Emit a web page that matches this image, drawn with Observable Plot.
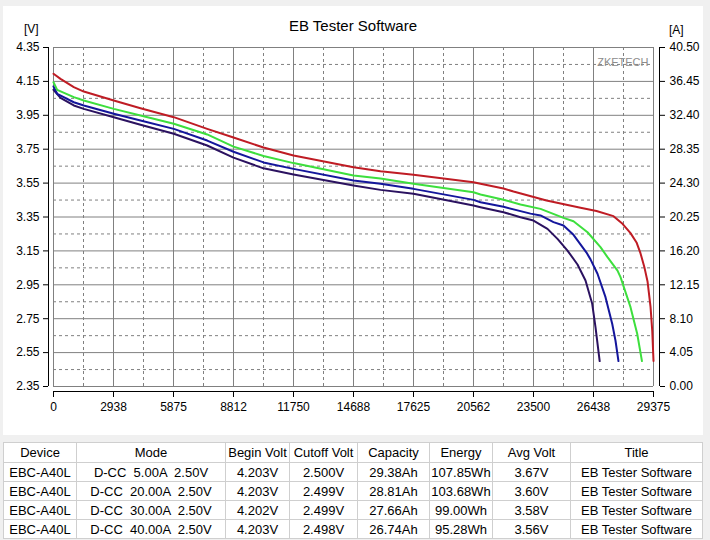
<!DOCTYPE html>
<html><head><meta charset="utf-8">
<script src="https://cdn.jsdelivr.net/npm/d3@7"></script>
<script src="https://cdn.jsdelivr.net/npm/@observablehq/plot@0.6"></script>
<style>
html,body{margin:0;padding:0;background:#f0f0f0;width:710px;height:540px;overflow:hidden;font-family:"Liberation Sans",Arial,sans-serif;color:#000;}
#panel{position:absolute;left:3px;top:6px;width:700px;height:429px;background:#fff;}
#panel svg{position:absolute;left:0;top:0;}
#title{position:absolute;left:0;width:700px;top:11px;text-align:center;font-size:15px;}
.unit{position:absolute;font-size:12px;}
table{position:absolute;left:3px;top:442px;width:699px;border-collapse:collapse;background:#fff;table-layout:fixed;font-size:13px;border:1px solid #a0a0a0;}
td,th{border:1px solid #cfcfcf;text-align:center;padding:0;font-weight:normal;white-space:pre;height:18px;line-height:17px;}
th{height:19px;}
</style>
</head><body>
<div id="panel">
  <div id="title"></div>
  <div class="unit" id="uv" style="left:21px;top:16px;"></div>
  <div class="unit" id="ua" style="left:666px;top:17px;"></div>
</div>
<table id="tbl"></table>
<script>
// ---- data ----
const chartTitle = "EB Tester Software";
const leftUnit = "[V]";
const rightUnit = "[A]";
const watermark = "ZKETECH";

const xTicks = [0, 2938, 5875, 8812, 11750, 14688, 17625, 20562, 23500, 26438, 29375];
const xMid = [1469, 4406, 7344, 10281, 13219, 16156, 19094, 22031, 24969, 27906];
const yTicks = [2.35, 2.55, 2.75, 2.95, 3.15, 3.35, 3.55, 3.75, 3.95, 4.15, 4.35];
const yMid = [2.45, 2.65, 2.85, 3.05, 3.25, 3.45, 3.65, 3.85, 4.05, 4.25];
const ampLabels = ["0.00", "4.05", "8.10", "12.15", "16.20", "20.25", "24.30", "28.35", "32.40", "36.45", "40.50"];

// capacity (mAh) and voltage (V) per discharge current
const s5x = [0, 343, 994, 1483, 2952, 4259, 5890, 7525, 8812, 10281, 11750, 14688, 16009, 17625, 20562, 20905, 22031, 22521, 24136, 25801, 26584, 27417, 27859, 28250, 28544, 28740, 28936, 29083, 29230, 29313, 29375];
const s5v = [4.195, 4.165, 4.116, 4.090, 4.037, 3.992, 3.939, 3.870, 3.819, 3.760, 3.713, 3.644, 3.620, 3.599, 3.555, 3.546, 3.518, 3.500, 3.447, 3.405, 3.385, 3.355, 3.31, 3.255, 3.20, 3.135, 3.05, 2.97, 2.82, 2.68, 2.50];

const s20x = [0, 181, 994, 1483, 2952, 4259, 5890, 7525, 8812, 10281, 11750, 14688, 16009, 17625, 20562, 20905, 22031, 22863, 23843, 24969, 25458, 26144, 26780, 27123, 27613, 27760, 28250, 28577, 28810];
const s20v = [4.145, 4.10, 4.057, 4.037, 3.988, 3.949, 3.900, 3.837, 3.765, 3.710, 3.668, 3.595, 3.577, 3.546, 3.496, 3.483, 3.452, 3.424, 3.398, 3.345, 3.325, 3.26, 3.172, 3.113, 3.034, 2.995, 2.818, 2.661, 2.50];

const s30x = [0, 181, 994, 1483, 2952, 4259, 5890, 7525, 8812, 10281, 11750, 14688, 16009, 17625, 20562, 20905, 22031, 23353, 23843, 24479, 24969, 25458, 26095, 26291, 26633, 27025, 27353, 27515, 27660];
const s30v = [4.12, 4.077, 4.027, 4.008, 3.959, 3.919, 3.870, 3.801, 3.735, 3.672, 3.634, 3.565, 3.546, 3.516, 3.451, 3.437, 3.41, 3.37, 3.359, 3.32, 3.30, 3.245, 3.14, 3.10, 3.015, 2.877, 2.72, 2.62, 2.50];

const s40x = [0, 343, 994, 1483, 2952, 4259, 5890, 7525, 8812, 10281, 11750, 14688, 16009, 17625, 20562, 20905, 22031, 22863, 23500, 24185, 24675, 25164, 25654, 26046, 26374, 26535, 26740];
const s40v = [4.10, 4.053, 4.008, 3.988, 3.939, 3.894, 3.841, 3.772, 3.70, 3.637, 3.601, 3.536, 3.510, 3.487, 3.418, 3.408, 3.378, 3.349, 3.329, 3.28, 3.221, 3.152, 3.07, 2.975, 2.838, 2.70, 2.50];

const seriesColors = ["#2b1260", "#14169c", "#3ddf3d", "#bf1c24"];

// table
const tblHeader = ["Device", "Mode", "Begin Volt", "Cutoff Volt", "Capacity", "Energy", "Avg Volt", "Title"];
const tblDevice = ["EBC-A40L", "EBC-A40L", "EBC-A40L", "EBC-A40L"];
const tblMode = ["D-CC  5.00A  2.50V", "D-CC  20.00A  2.50V", "D-CC  30.00A  2.50V", "D-CC  40.00A  2.50V"];
const tblBegin = ["4.203V", "4.203V", "4.202V", "4.203V"];
const tblCutoff = ["2.500V", "2.499V", "2.499V", "2.498V"];
const tblCapacity = ["29.38Ah", "28.81Ah", "27.66Ah", "26.74Ah"];
const tblEnergy = ["107.85Wh", "103.68Wh", "99.00Wh", "95.28Wh"];
const tblAvg = ["3.67V", "3.60V", "3.58V", "3.56V"];
const tblTitle = ["EB Tester Software", "EB Tester Software", "EB Tester Software", "EB Tester Software"];
const colWidths = [73, 149, 64, 68, 72, 63, 78, 132];

// ---- build ----
document.getElementById("title").textContent = chartTitle;
document.getElementById("uv").textContent = leftUnit;
document.getElementById("ua").textContent = rightUnit;

const series = [[s40x, s40v], [s30x, s30v], [s20x, s20v], [s5x, s5v]].map(([xs, vs], k) =>
  ({color: seriesColors[k], rows: xs.map((x, i) => ({x, v: vs[i]}))}));

const gridC = "#808080";
const chart = Plot.plot({
  width: 700, height: 429,
  marginLeft: 50, marginRight: 50, marginTop: 41, marginBottom: 49,
  style: {fontFamily: "Liberation Sans, Arial, sans-serif", fontSize: "12px", background: "transparent", color: "#000", overflow: "visible"},
  x: {domain: [0, 29375], axis: null},
  y: {domain: [2.35, 4.35], axis: null},
  marks: [
    Plot.ruleX(xMid, {stroke: gridC, strokeDasharray: "3,3"}),
    Plot.ruleY(yMid, {stroke: gridC, strokeDasharray: "3,3"}),
    Plot.ruleX(xTicks, {stroke: gridC}),
    Plot.ruleY(yTicks, {stroke: gridC}),
    Plot.text([watermark], {frameAnchor: "top-right", textAnchor: "end", lineAnchor: "middle", dx: -5, dy: 15, fill: "#8c8c8c", fontSize: 11}),
    ...series.map(s => Plot.line(s.rows, {x: "x", y: "v", stroke: s.color, strokeWidth: 2})),
    Plot.ruleX([0], {dx: -5, stroke: "#000"}),
    Plot.ruleX([29375], {dx: 6, stroke: "#000"}),
    Plot.ruleY([2.35], {dy: 5, stroke: "#000"}),
    Plot.axisY({ticks: yTicks, anchor: "left", tickSize: 5, tickPadding: 4, dx: -5, tickFormat: d3.format(".2f"), label: null, stroke: "#000"}),
    Plot.axisY({ticks: yTicks, anchor: "right", tickSize: 5, tickPadding: 5, dx: 6, tickFormat: d => ampLabels[yTicks.indexOf(d)], label: null, stroke: "#000"}),
    Plot.axisX({ticks: xTicks, anchor: "bottom", tickSize: 6, tickPadding: 5, dy: 5, tickFormat: d => String(d), label: null, stroke: "#000"})
  ]
});
document.getElementById("panel").appendChild(chart);

const tbl = document.getElementById("tbl");
const cg = document.createElement("colgroup");
colWidths.forEach(w => { const c = document.createElement("col"); c.style.width = w + "px"; cg.appendChild(c); });
tbl.appendChild(cg);
const hr = document.createElement("tr");
tblHeader.forEach(h => { const th = document.createElement("th"); th.textContent = h; hr.appendChild(th); });
tbl.appendChild(hr);
for (let i = 0; i < tblDevice.length; i++) {
  const tr = document.createElement("tr");
  [tblDevice, tblMode, tblBegin, tblCutoff, tblCapacity, tblEnergy, tblAvg, tblTitle].forEach(col => {
    const td = document.createElement("td"); td.textContent = col[i]; tr.appendChild(td);
  });
  tbl.appendChild(tr);
}
</script>
</body></html>
